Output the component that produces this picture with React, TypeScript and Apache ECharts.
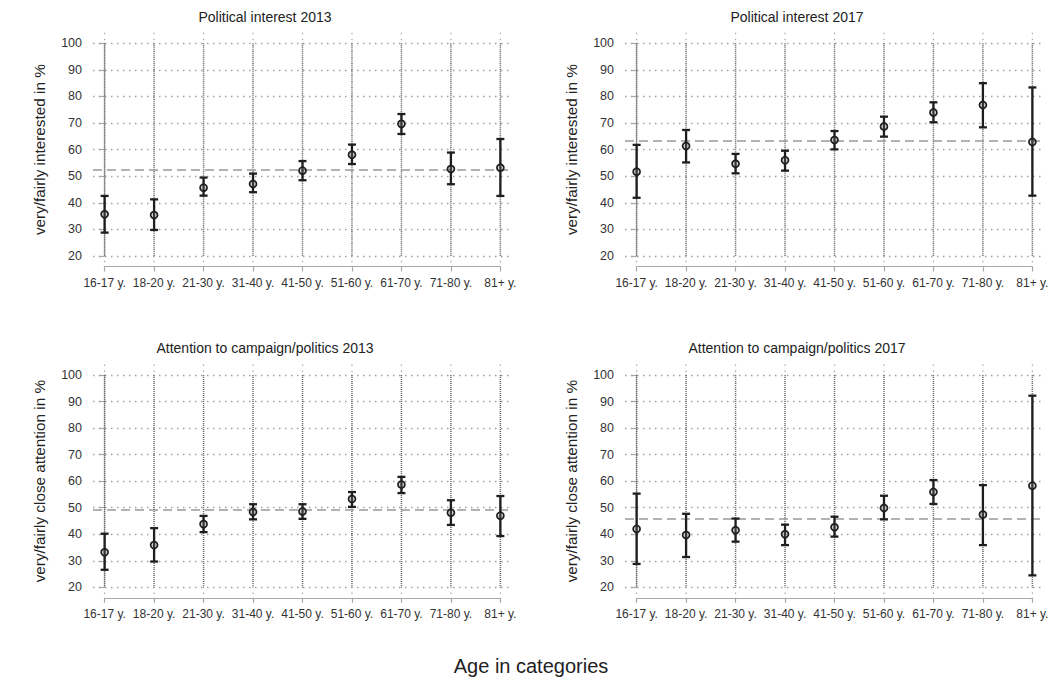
import React, { useEffect, useRef } from "react";
import * as echarts from "echarts";

const categories = ["16-17 y.", "18-20 y.", "21-30 y.", "31-40 y.", "41-50 y.", "51-60 y.", "61-70 y.", "71-80 y.", "81+ y."];

const interest2013 = [35.7, 35.4, 45.7, 47.1, 52.1, 58.1, 69.7, 52.7, 53.2];
const interest2013Low = [28.8, 29.8, 42.7, 44.0, 48.5, 54.6, 65.9, 47.0, 42.6];
const interest2013High = [42.6, 41.3, 49.5, 51.0, 55.7, 61.9, 73.4, 58.9, 64.0];
const interest2013Mean = 52.4;

const interest2017 = [51.7, 61.4, 54.7, 56.0, 63.6, 68.7, 74.0, 76.8, 62.9];
const interest2017Low = [41.9, 55.2, 51.1, 52.1, 60.1, 64.9, 70.3, 68.4, 42.7];
const interest2017High = [61.8, 67.4, 58.4, 59.6, 67.0, 72.4, 77.8, 85.0, 83.4];
const interest2017Mean = 63.4;

const attention2013 = [33.2, 35.9, 43.8, 48.4, 48.6, 53.3, 58.7, 48.1, 47.0];
const attention2013Low = [26.6, 29.7, 40.8, 45.6, 45.8, 50.3, 55.5, 43.5, 39.3];
const attention2013High = [40.2, 42.3, 46.9, 51.3, 51.3, 55.9, 61.6, 52.8, 54.4];
const attention2013Mean = 49.1;

const attention2017 = [42.0, 39.7, 41.5, 40.0, 42.6, 49.9, 55.9, 47.4, 58.3];
const attention2017Low = [28.8, 31.4, 37.2, 35.9, 39.1, 45.6, 51.4, 35.9, 24.5];
const attention2017High = [55.3, 47.7, 45.9, 43.6, 46.6, 54.5, 60.4, 58.5, 92.2];
const attention2017Mean = 45.9;

const yTicks = [20, 30, 40, 50, 60, 70, 80, 90, 100];

const FONT = "'Liberation Sans', Arial, sans-serif";

const panels = [
  { title: "Political interest 2013", yTitle: "very/fairly interested in %", est: interest2013, low: interest2013Low, high: interest2013High, mean: interest2013Mean },
  { title: "Political interest 2017", yTitle: "very/fairly interested in %", est: interest2017, low: interest2017Low, high: interest2017High, mean: interest2017Mean },
  { title: "Attention to campaign/politics 2013", yTitle: "very/fairly close attention in %", est: attention2013, low: attention2013Low, high: attention2013High, mean: attention2013Mean },
  { title: "Attention to campaign/politics 2017", yTitle: "very/fairly close attention in %", est: attention2017, low: attention2017Low, high: attention2017High, mean: attention2017Mean },
];

function buildOption() {
  const grid: any[] = [];
  const xAxis: any[] = [];
  const yAxis: any[] = [];
  const series: any[] = [];
  const graphic: any[] = [];
  const PAD = 0.235;

  panels.forEach((p, k) => {
    const dx = k % 2 === 0 ? 0 : 532;
    const top = k < 2 ? 43.3 : 375;
    const h = k < 2 ? 212.7 : 212.3;
    const left = 93 + dx;
    const width = 419;
    const unit = width / (categories.length - 1 + 2 * PAD);
    const axisY = top + h + 10.5;

    // main plotting grid
    const gMain = grid.length;
    grid.push({ left, top, width, height: h, containLabel: false });
    xAxis.push({ gridIndex: gMain, type: "value", min: -PAD, max: categories.length - 1 + PAD, show: false });
    yAxis.push({
      gridIndex: gMain,
      type: "value",
      min: yTicks[0],
      max: yTicks[yTicks.length - 1],
      interval: 10,
      axisLine: { show: true, lineStyle: { color: "#a8a8a8", width: 1.2 } },
      axisTick: { show: true, length: 6, lineStyle: { color: "#a8a8a8", width: 1.2 } },
      axisLabel: { fontSize: 12.5, color: "#333", margin: 11, fontFamily: FONT },
      splitLine: { show: true, lineStyle: { color: "#a0a0a0", width: 1.4, type: [1.5, 4.5] } },
    });

    // visible category axis grid
    const gAx = grid.length;
    grid.push({ left: left + PAD * unit, top: axisY - 1, width: unit * (categories.length - 1), height: 1 });
    xAxis.push({
      gridIndex: gAx,
      type: "category",
      data: categories,
      boundaryGap: false,
      axisLine: { show: true, lineStyle: { color: "#a8a8a8", width: 1.2 } },
      axisTick: { show: true, length: 5, alignWithLabel: true, lineStyle: { color: "#a8a8a8", width: 1.2 } },
      axisLabel: { interval: 0, fontSize: 12, color: "#333", margin: 10, fontFamily: FONT },
      splitLine: { show: false },
    });
    yAxis.push({ gridIndex: gAx, type: "value", show: false });

    // vertical dotted category lines
    series.push({
      type: "custom",
      xAxisIndex: gMain,
      yAxisIndex: gMain,
      clip: false,
      silent: true,
      z: 1,
      data: categories.map((_, i) => [i, yTicks[0], yTicks[yTicks.length - 1]]),
      encode: { x: 0, y: [1, 2] },
      renderItem: (params: any, api: any) => {
        const i = api.value(0);
        const a = api.coord([i, api.value(2)]);
        const b = api.coord([i, api.value(1)]);
        return {
          type: "group",
          children: [
            { type: "line", shape: { x1: a[0], y1: a[1] - 10.5, x2: b[0], y2: b[1] + 9 }, style: { stroke: "#aaa", lineWidth: 1.2, lineDash: [1.5, 4.5] } },
            { type: "line", shape: { x1: a[0], y1: a[1], x2: b[0], y2: b[1] }, style: { stroke: "#6e6e6e", lineWidth: 1.5, lineDash: [1, 1] } },
          ],
        };
      },
    });

    // error bars
    series.push({
      type: "custom",
      xAxisIndex: gMain,
      yAxisIndex: gMain,
      clip: false,
      silent: true,
      z: 3,
      data: categories.map((_, i) => [i, p.low[i], p.high[i]]),
      encode: { x: 0, y: [1, 2] },
      renderItem: (params: any, api: any) => {
        const i = api.value(0);
        const lo = api.coord([i, api.value(1)]);
        const hi = api.coord([i, api.value(2)]);
        const w = 4;
        const st = { stroke: "#1e1e1e", lineWidth: 2.3 };
        return {
          type: "group",
          children: [
            { type: "line", shape: { x1: lo[0], y1: lo[1], x2: hi[0], y2: hi[1] }, style: st },
            { type: "line", shape: { x1: lo[0] - w, y1: lo[1], x2: lo[0] + w, y2: lo[1] }, style: st },
            { type: "line", shape: { x1: hi[0] - w, y1: hi[1], x2: hi[0] + w, y2: hi[1] }, style: st },
          ],
        };
      },
    });

    // point estimates + mean line
    series.push({
      type: "scatter",
      xAxisIndex: gMain,
      yAxisIndex: gMain,
      z: 4,
      symbol: "circle",
      symbolSize: 7,
      itemStyle: { color: "rgba(120,120,120,0.3)", borderColor: "#1e1e1e", borderWidth: 1.7, opacity: 1 },
      data: categories.map((_, i) => [i, p.est[i]]),
      markLine: {
        silent: true,
        symbol: "none",
        label: { show: false },
        lineStyle: { color: "#999", type: [9, 5], width: 1.6 },
        data: [{ yAxis: p.mean }],
        z: 2,
      },
    });

    // titles
    graphic.push({
      type: "text",
      x: 265 + dx,
      y: k < 2 ? 16.7 : 348.3,
      style: { text: p.title, align: "center", verticalAlign: "middle", fontSize: 14, fontFamily: FONT, fill: "#222" },
    });
    graphic.push({
      type: "text",
      x: 39 + dx,
      y: top + h / 2,
      rotation: Math.PI / 2,
      style: { text: p.yTitle, align: "center", verticalAlign: "middle", fontSize: 15.3, fontFamily: FONT, fill: "#222" },
    });
  });

  graphic.push({
    type: "text",
    x: 531,
    y: 666,
    style: { text: "Age in categories", align: "center", verticalAlign: "middle", fontSize: 20, fontFamily: FONT, fill: "#222" },
  });

  return {
    animation: false,
    backgroundColor: "#ffffff",
    textStyle: { fontFamily: FONT },
    grid,
    xAxis,
    yAxis,
    series,
    graphic,
  };
}

export default function App() {
  const ref = useRef<HTMLDivElement>(null);
  useEffect(() => {
    if (!ref.current) return;
    const chart = echarts.init(ref.current, null, { renderer: "svg" });
    chart.setOption(buildOption());
    return () => chart.dispose();
  }, []);
  return <div ref={ref} style={{ position: "fixed", left: 0, top: 0, width: 1064, height: 683, background: "#fff" }} />;
}
